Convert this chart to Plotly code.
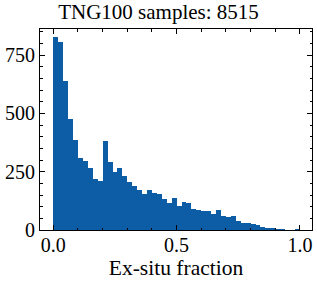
import plotly.graph_objects as go

# Histogram of ex-situ fraction (50 bins from 0 to 1), counts
bin_start = 0.0
bin_size = 0.02
counts = [828, 808, 640, 477, 387, 309, 296, 266, 219, 212,
          382, 293, 250, 266, 233, 207, 189, 173, 155, 173,
          159, 155, 134, 116, 137, 103, 120, 116, 90, 87,
          83, 80, 69, 87, 61, 56, 60, 39, 30, 30,
          26, 21, 12, 5, 9, 4, 1, 0, 0, 4]
x_ticks = [0.0, 0.5, 1.0]
x_ticklabels = ["0.0", "0.5", "1.0"]
y_ticks = [0, 250, 500, 750]
title_text = "TNG100 samples: 8515"
x_label = "Ex-situ fraction"

centers = [bin_start + bin_size * (i + 0.5) for i in range(len(counts))]

FONT = "Liberation Serif"

fig = go.Figure(go.Bar(
    x=centers, y=counts, width=bin_size,
    marker=dict(color="#0C5DA5", line=dict(width=0)),
))

fig.update_layout(
    width=317, height=282,
    margin=dict(l=40, r=5, t=29, b=52, autoexpand=False),
    paper_bgcolor="white", plot_bgcolor="white",
    bargap=0, showlegend=False,
    font=dict(family=FONT, size=20, color="black"),
    title=dict(text=title_text, x=0.5, xanchor="center", y=0.957, yanchor="middle",
               automargin=False,
               font=dict(family=FONT, size=21, color="black")),
)

fig.update_xaxes(
    range=[-0.054, 1.049], automargin=False,
    tickvals=x_ticks, ticktext=x_ticklabels,
    ticks="inside", ticklen=5, tickwidth=1, tickcolor="black",
    ticklabelstandoff=-3,
    showline=True, linecolor="black", linewidth=1, mirror="allticks",
    showgrid=False, zeroline=False,
    minor=dict(dtick=0.1, tick0=0, ticks="inside", ticklen=2.5, tickwidth=1, tickcolor="black", showgrid=False),
    title=dict(text=x_label, standoff=0, font=dict(family=FONT, size=21.5)),
    tickfont=dict(family=FONT, size=20),
)
fig.update_yaxes(
    range=[0, 862], automargin=False,
    tickvals=y_ticks,
    ticks="inside", ticklen=5, tickwidth=1, tickcolor="black",
    showline=True, linecolor="black", linewidth=1, mirror="allticks",
    showgrid=False, zeroline=False,
    minor=dict(dtick=50, tick0=0, ticks="inside", ticklen=2.5, tickwidth=1, tickcolor="black", showgrid=False),
    tickfont=dict(family=FONT, size=20),
)

fig.write_html("out.html", config={"displayModeBar": False},
               post_script="document.body.style.margin='0';document.body.style.overflow='hidden';")
